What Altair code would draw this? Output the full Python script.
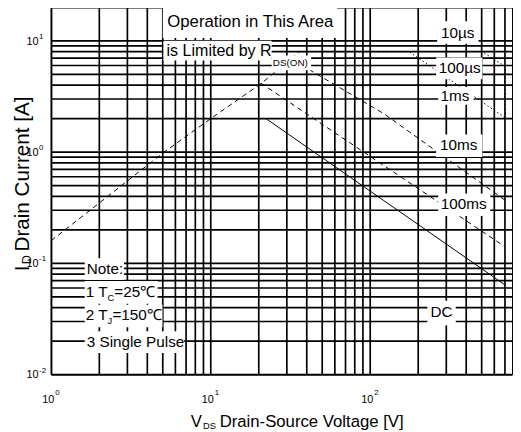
import altair as alt
import pandas as pd

FONT = "Liberation Sans, Arial, sans-serif"

W, H = 468, 373

# ---- grid values ----
x_grid = [1, 2, 3, 4, 5, 6, 7, 8, 9, 10, 20, 30, 40, 50, 60, 70, 80, 90,
          100, 200, 300, 400, 500, 600, 700]
y_grid = [0.01, 0.02, 0.03, 0.04, 0.05, 0.06, 0.07, 0.08, 0.09,
          0.1, 0.2, 0.3, 0.4, 0.5, 0.6, 0.7, 0.8, 0.9,
          1, 2, 3, 4, 5, 6, 7, 8, 9, 10, 20]

# ---- SOA curves (V_DS [V], I_D [A]) ----
rds_v = [1, 5.1, 10, 21, 36]
rds_i = [0.16, 1.0, 2.0, 4.2, 8.0]
us10_v = [36, 505, 700, 700]
us10_i = [8.0, 8.0, 5.9, 2.05]
us100_v = [36, 175, 700]
us100_i = [8.0, 8.0, 2.04]
ms10_v = [33.6, 43.2, 122, 700]
ms10_i = [6.85, 5.32, 2.21, 0.37]
ms100_v = [20.6, 700]
ms100_i = [4.17, 0.141]
dc_v = [10, 22.2, 700]
dc_i = [2.0, 2.0, 0.064]

# ---- label backgrounds (data units) ----
box_v1 = [5.0, 5.05, 24.1, 263, 259, 267, 259, 267, 228, 1.62, 1.62, 1.62, 1.62]
box_v2 = [62, 24.1, 42.6, 478, 505, 445, 505, 566, 344, 2.86, 4.64, 4.98, 6.81]
box_i1 = [20, 10.0, 7.37, 15.0, 7.07, 3.84, 1.44, 0.425, 0.0461, 0.1108, 0.0693, 0.0425, 0.0245]
box_i2 = [10.6, 6.65, 5.43, 9.41, 4.52, 2.66, 0.903, 0.266, 0.0277, 0.0707, 0.0434, 0.0266, 0.01566]

# ---- curve labels ----
lab_text = ["10µs", "100µs", "1ms", "10ms", "100ms", "DC"]
lab_v = [354, 364, 340, 359, 386, 280]
lab_i = [11.8, 5.65, 3.19, 1.15, 0.340, 0.0361]

# ---- tick labels ----
xt_val = [1, 10, 100]
xt_exp = ["0", "1", "2"]
yt_val = [0.01, 0.1, 1, 10]
yt_exp = ["-2", "-1", "0", "1"]

xs = alt.Scale(type="log", domain=[1, 775], nice=False)
ys = alt.Scale(type="log", domain=[0.01, 20], nice=False)


def X(f):
    return alt.X(f, type="quantitative", scale=xs, axis=None)


def Y(f):
    return alt.Y(f, type="quantitative", scale=ys, axis=None)


layers = []

# grid
layers.append(alt.Chart(pd.DataFrame({"V": x_grid})).mark_rule(
    color="black", strokeWidth=1.7).encode(x=X("V")))
layers.append(alt.Chart(pd.DataFrame({"I": y_grid})).mark_rule(
    color="black", strokeWidth=1.7).encode(y=Y("I")))


def curve(v, i, dash=None, width=1.0):
    df = pd.DataFrame({"V": v, "I": i, "k": list(range(len(v)))})
    kw = dict(color="black", strokeWidth=width)
    if dash:
        kw["strokeDash"] = dash
    return alt.Chart(df).mark_line(**kw).encode(x=X("V"), y=Y("I"), order="k:Q")


layers.append(curve(rds_v, rds_i, [5, 4]))
layers.append(curve(us10_v, us10_i, [1.5, 2.5]))
layers.append(curve(us100_v, us100_i, [1.5, 2.5]))
layers.append(curve(ms10_v, ms10_i, [5, 4]))
layers.append(curve(ms100_v, ms100_i, [5, 4]))
layers.append(curve(dc_v, dc_i))

# white label boxes
boxes = pd.DataFrame({"v1": box_v1, "v2": box_v2, "i1": box_i1, "i2": box_i2})
layers.append(alt.Chart(boxes).mark_rect(color="white").encode(
    x=X("v1"), x2="v2", y=Y("i1"), y2="i2"))


def txt(texts, v, i, size, align="center", dx=0, dy=0):
    df = pd.DataFrame({"t": texts, "V": v, "I": i})
    return alt.Chart(df).mark_text(
        font=FONT, fontSize=size, align=align, baseline="middle",
        dx=dx, dy=dy, color="black").encode(x=X("V"), y=Y("I"), text="t:N")


layers.append(txt(["Operation in This Area"], [17.7], [14.7], 17))
layers.append(txt(["is Limited by R"], [24.1], [8.16], 16.3, align="right"))
layers.append(txt(["DS(ON)"], [24.5], [6.26], 10, align="left"))
layers.append(txt(lab_text, lab_v, lab_i, 15.5))
layers.append(txt(["Note:", "3 Single Pulse"], [1.668, 1.668], [0.0885, 0.0196], 15.5, align="left"))
layers.append(txt(["1 T", "2 T"], [2.25, 2.25], [0.0554, 0.0340], 15.5, align="right"))
layers.append(txt(["C", "J"], [2.25, 2.25], [0.0554, 0.0340], 9.5, align="left", dy=6))
layers.append(txt(["=25℃"], [2.25], [0.0554], 15.5, align="left", dx=7))
layers.append(txt(["=150℃"], [2.25], [0.0340], 15.5, align="left", dx=5))

# x tick labels
xt = pd.DataFrame({"V": xt_val, "b": ["10"] * 3, "e": xt_exp})
layers.append(alt.Chart(xt).mark_text(font=FONT, fontSize=11, align="right", dx=3).encode(
    x=X("V"), y=alt.value(H + 26), text="b:N"))
layers.append(alt.Chart(xt).mark_text(font=FONT, fontSize=8, align="left", dx=4).encode(
    x=X("V"), y=alt.value(H + 19), text="e:N"))

# y tick labels
yt = pd.DataFrame({"I": yt_val, "b": ["10"] * 4, "e": yt_exp})
layers.append(alt.Chart(yt).mark_text(font=FONT, fontSize=11, align="right", baseline="middle", dy=1).encode(
    y=Y("I"), x=alt.value(-13), text="b:N"))
layers.append(alt.Chart(yt).mark_text(font=FONT, fontSize=8, align="left", baseline="middle", dy=-4).encode(
    y=Y("I"), x=alt.value(-12.5), text="e:N"))

# axis titles
layers.append(alt.Chart(pd.DataFrame({"t": ["V"]})).mark_text(font=FONT, fontSize=17, align="right").encode(
    x=alt.value(153), y=alt.value(H + 48), text="t:N"))
layers.append(alt.Chart(pd.DataFrame({"t": ["DS"]})).mark_text(font=FONT, fontSize=9.5, align="left").encode(
    x=alt.value(154), y=alt.value(H + 52), text="t:N"))
layers.append(alt.Chart(pd.DataFrame({"t": ["Drain-Source Voltage [V]"]})).mark_text(
    font=FONT, fontSize=17, align="left").encode(
    x=alt.value(171), y=alt.value(H + 48), text="t:N"))

layers.append(alt.Chart(pd.DataFrame({"t": ["I"]})).mark_text(font=FONT, fontSize=21, align="left", angle=270).encode(
    x=alt.value(-29), y=alt.value(268), text="t:N"))
layers.append(alt.Chart(pd.DataFrame({"t": ["D"]})).mark_text(font=FONT, fontSize=13, align="left", angle=270).encode(
    x=alt.value(-25), y=alt.value(261), text="t:N"))
layers.append(alt.Chart(pd.DataFrame({"t": ["Drain Current [A]"]})).mark_text(
    font=FONT, fontSize=21, align="left", angle=270).encode(
    x=alt.value(-29), y=alt.value(248), text="t:N"))

chart = alt.layer(*layers).properties(
    width=W, height=H,
    padding={"left": 44, "top": -4, "right": 1, "bottom": 56},
    autosize=alt.AutoSizeParams(type="none"),
    background="white",
).configure_view(stroke="black", strokeWidth=1)

chart.save("out.html", embed_options={"renderer": "svg", "actions": False})
